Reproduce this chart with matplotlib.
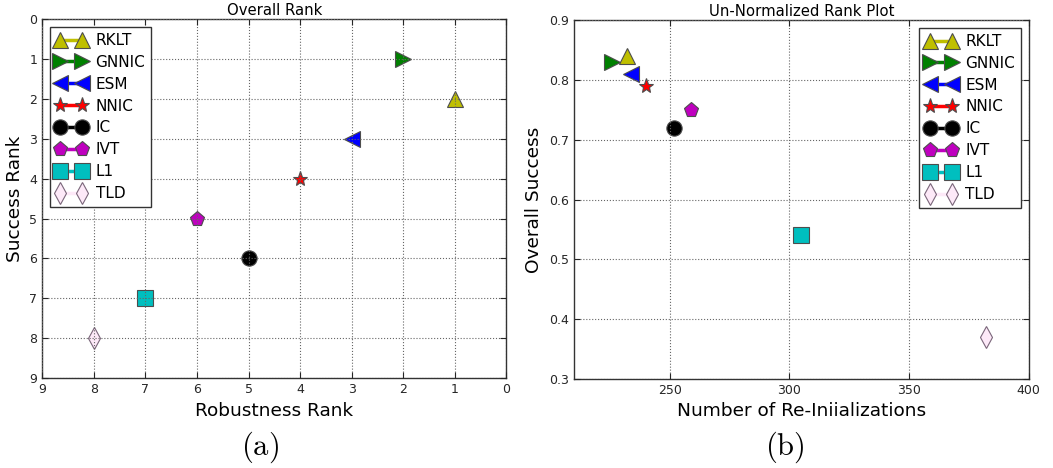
import matplotlib
matplotlib.use('Agg')
import matplotlib.pyplot as plt

matplotlib.rcParams['font.family'] = ['DejaVu Sans']
matplotlib.rcParams['mathtext.fontset'] = 'cm'
matplotlib.rcParams['xtick.direction'] = 'in'
matplotlib.rcParams['ytick.direction'] = 'in'
matplotlib.rcParams['xtick.top'] = True
matplotlib.rcParams['ytick.right'] = True
matplotlib.rcParams['axes.axisbelow'] = False

# tracker names and plot styles
trackers = ['RKLT', 'GNNIC', 'ESM', 'NNIC', 'IC', 'IVT', 'L1', 'TLD']
markers = ['^', '>', '<', '*', 'o', 'p', 's', 'd']
colors = ['#bfbf00', '#008000', '#0000ff', '#ff0000', '#000000', '#bf00bf', '#00bfbf', '#fde9f8']

# (a) overall rank
robustness_rank = [1, 2, 3, 4, 5, 6, 7, 8]
success_rank = [2, 1, 3, 4, 6, 5, 7, 8]

# (b) un-normalized
num_reinits = [232, 226, 234, 240, 252, 259, 305, 382]
overall_success = [0.84, 0.83, 0.81, 0.79, 0.72, 0.75, 0.54, 0.37]

rank_ticks = list(range(0, 10))
reinit_ticks = [250, 300, 350, 400]
success_ticks = [0.3, 0.4, 0.5, 0.6, 0.7, 0.8, 0.9]

fig = plt.figure(figsize=(10.53, 4.68), dpi=100)
ax1 = fig.add_axes([0.040, 0.192, 0.441, 0.767])
ax2 = fig.add_axes([0.545, 0.190, 0.432, 0.767])


def draw_points(ax, xs, ys):
    for name, mk, col, x, y in zip(trackers, markers, colors, xs, ys):
        edge = '#7a667a' if name == 'TLD' else '0.3'
        ax.plot([x], [y], marker=mk, color=col, markerfacecolor=col,
                markeredgecolor=edge, markeredgewidth=0.8, markersize=11,
                linewidth=2.5, label=name)


def style_axes(ax):
    ax.grid(True, color='0.4', linestyle=':', linewidth=0.8)
    for sp in ax.spines.values():
        sp.set_color('0.2')
        sp.set_linewidth(1.0)
    ax.tick_params(labelsize=9, colors='0.15', length=4, width=0.8)


def add_legend(ax, loc):
    leg = ax.legend(loc=loc, numpoints=2, fontsize=11, handlelength=2.0,
                    labelspacing=0.45, handletextpad=0.6, fancybox=False,
                    edgecolor='0.2', framealpha=1, borderaxespad=0.5,
                    borderpad=0.4)
    leg.get_frame().set_linewidth(1.0)


draw_points(ax1, robustness_rank, success_rank)
ax1.set_xlim(9, 0)
ax1.set_ylim(9, 0)
ax1.set_xticks(rank_ticks)
ax1.set_yticks(rank_ticks)
ax1.set_title('Overall Rank', fontsize=10.7, pad=3)
ax1.set_xlabel('Robustness Rank', fontsize=13.3)
ax1.set_ylabel('Success Rank', fontsize=13.3)
style_axes(ax1)
add_legend(ax1, 'upper left')

draw_points(ax2, num_reinits, overall_success)
ax2.set_xlim(210, 400)
ax2.set_ylim(0.3, 0.9)
ax2.set_xticks(reinit_ticks)
ax2.set_yticks(success_ticks)
ax2.set_title('Un-Normalized Rank Plot', fontsize=10.7, pad=3)
ax2.set_xlabel('Number of Re-Iniializations', fontsize=13.3)
ax2.set_ylabel('Overall Success', fontsize=13.3)
style_axes(ax2)
add_legend(ax2, 'upper right')

fig.text(0.247, 0.045, r'$\mathrm{(a)}$', fontsize=22, ha='center', va='center')
fig.text(0.745, 0.045, r'$\mathrm{(b)}$', fontsize=22, ha='center', va='center')

fig.savefig('out.png', dpi=100, facecolor='white')
